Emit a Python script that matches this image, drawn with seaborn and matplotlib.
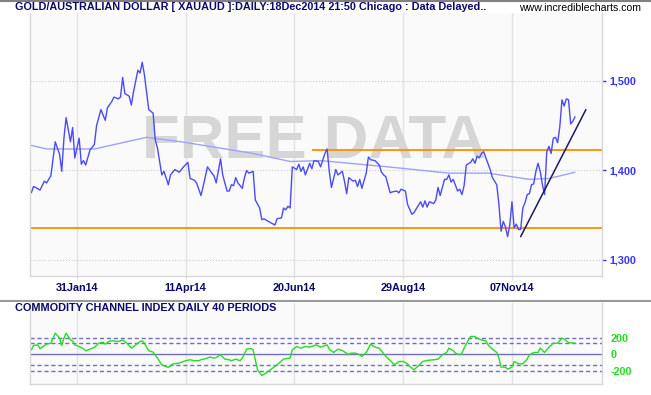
"""
plot.py - Gold / Australian dollar daily chart with CCI panel (incrediblecharts style)

Run:
    python plot.py

Saves out.png (651x395).
"""
import matplotlib
matplotlib.use("Agg")
import matplotlib.pyplot as plt
import pandas as pd
import seaborn as sns

# values; x = trading-day number counted from 1 Jan 2014
price_day = [
    1, 2, 3, 5, 7, 8, 10, 12, 14, 15,
    16, 17, 19, 20, 21, 23, 24, 25, 26, 28,
    30, 31, 33, 35, 36, 38, 39, 41, 42, 43,
    44, 46, 47, 48, 50, 51, 52, 53, 55, 57,
    58, 59, 61, 62, 64, 65, 67, 69, 70, 71,
    73, 74, 76, 77, 79, 80, 82, 84, 85, 86,
    88, 89, 91, 92, 93, 94, 95, 96, 98, 99,
    100, 101, 103, 104, 106, 107, 108, 110, 113, 114,
    116, 117, 118, 119, 120, 121, 123, 124, 125, 126,
    127, 129, 130, 131, 133, 134, 136, 137, 138, 139,
    141, 142, 144, 145, 146, 147, 149, 150, 151, 152,
    153, 155, 156, 157, 159, 161, 162, 163, 164, 166,
    167, 169, 170, 171, 173, 174, 176, 177, 179, 180,
    181, 182, 183, 184, 186, 187, 188, 189, 191, 192,
    193, 194, 195, 197, 198, 199, 200, 201, 203, 204,
    205, 206, 207, 208, 209, 210, 212, 213, 215, 216,
    217, 218, 219, 220, 221, 222, 223, 224, 225, 226,
    227, 228, 229, 230, 231, 232, 233, 234, 235, 236,
    237, 238, 239, 240, 241, 242, 243, 244, 245, 246,
    247, 248, 249, 250, 251,
]
price_close = [
    1375, 1382, 1381, 1378, 1388, 1386, 1394, 1432, 1418, 1399,
    1436, 1459, 1432, 1448, 1414, 1436, 1407, 1411, 1406, 1423,
    1429, 1450, 1468, 1456, 1470, 1477, 1482, 1480, 1482, 1504,
    1486, 1483, 1473, 1488, 1512, 1509, 1521, 1507, 1468, 1464,
    1434, 1425, 1395, 1399, 1384, 1395, 1401, 1398, 1401, 1404,
    1409, 1391, 1389, 1386, 1372, 1382, 1404, 1397, 1394, 1386,
    1413, 1395, 1377, 1377, 1384, 1383, 1392, 1386, 1380, 1392,
    1400, 1397, 1399, 1367, 1358, 1345, 1346, 1343, 1339, 1346,
    1347, 1358, 1356, 1360, 1358, 1404, 1401, 1407, 1399, 1404,
    1395, 1408, 1402, 1411, 1410, 1404, 1419, 1424, 1399, 1381,
    1401, 1395, 1399, 1388, 1374, 1392, 1388, 1389, 1382, 1390,
    1380, 1397, 1415, 1412, 1411, 1406, 1398, 1395, 1393, 1375,
    1376, 1377, 1375, 1379, 1377, 1362, 1351, 1353, 1361, 1365,
    1359, 1366, 1359, 1365, 1363, 1367, 1381, 1372, 1390, 1390,
    1395, 1387, 1390, 1377, 1379, 1373, 1383, 1406, 1409, 1413,
    1408, 1416, 1414, 1419, 1421, 1414, 1401, 1392, 1384, 1362,
    1332, 1343, 1337, 1326, 1339, 1365, 1336, 1340, 1334, 1334,
    1358, 1364, 1373, 1374, 1384, 1385, 1399, 1408, 1399, 1384,
    1373, 1421, 1427, 1419, 1436, 1437, 1431, 1449, 1479, 1472,
    1480, 1479, 1452, 1455, 1460,
]
ma_day = [1, 8, 30, 54, 70, 103, 120, 134, 165, 193, 211, 230, 239, 251]
ma_value = [1428, 1424, 1424, 1437, 1432, 1419, 1410, 1411, 1404, 1397, 1397, 1390, 1391, 1398]

cci_day = [
    1, 2, 4, 5, 7, 8, 10, 12, 14, 15,
    16, 17, 19, 20, 21, 23, 25, 26, 29, 30,
    32, 34, 35, 37, 39, 41, 43, 45, 47, 49,
    51, 52, 53, 55, 57, 59, 61, 64, 66, 69,
    72, 74, 76, 78, 79, 82, 83, 85, 86, 88,
    90, 92, 93, 95, 97, 98, 100, 102, 103, 105,
    107, 110, 112, 114, 117, 120, 121, 123, 125, 127,
    129, 132, 134, 137, 138, 140, 142, 144, 147, 148,
    150, 152, 153, 155, 157, 159, 161, 164, 166, 168,
    170, 172, 174, 175, 177, 179, 181, 183, 186, 188,
    190, 192, 193, 195, 196, 198, 199, 200, 202, 203,
    205, 206, 208, 210, 211, 213, 215, 216, 217, 219,
    220, 222, 223, 225, 227, 229, 230, 232, 234, 235,
    237, 239, 241, 243, 245, 246, 248, 251,
]
cci_value = [
    52, 104, 112, 64, 104, 120, 132, 253, 193, 104,
    193, 253, 172, 160, 112, 92, 64, 40, 72, 80,
    132, 145, 120, 160, 160, 152, 172, 132, 72, 112,
    152, 160, 132, 40, 24, -48, -129, -161, -120, -108,
    -80, -68, -80, -80, -68, -48, -36, -48, -41, -8,
    -60, -68, -80, -60, -80, -48, 60, 68, 52, -190,
    -260, -208, -168, -129, -60, -48, 52, 92, 72, 92,
    84, 112, 84, 112, 60, 20, 60, 44, -8, 12,
    12, -8, -28, 20, 120, 84, 72, -28, -76, -129,
    -89, -89, -117, -149, -189, -141, -89, -76, -68, -60,
    -8, 20, 72, 44, 12, -8, 12, 72, 172, 213,
    213, 193, 172, 160, 112, 60, 20, -48, -157, -157,
    -181, -157, -89, -117, -117, -60, -8, 20, 20, 72,
    20, 84, 132, 132, 193, 181, 140, 132,
]

trend_day = [226, 256]
trend_value = [1326, 1468]
support_level = 1336
resistance_level = 1423
resistance_start = 130
cci_levels = [-200, -130, 130, 200]

price_ticks = [1300, 1400, 1500]
cci_ticks = [-200, 0, 200]
tick_dates = ["2014-01-31", "2014-04-11", "2014-06-20", "2014-08-29", "2014-11-07"]

TITLE = "GOLD/AUSTRALIAN DOLLAR [ XAUAUD ]:DAILY:18Dec2014 21:50 Chicago : Data Delayed.."
CCI_TITLE = "COMMODITY CHANNEL INDEX DAILY 40 PERIODS"

NAVY = "#0a0a6e"
PRICE_BLUE = "#4a4aff"
MA_BLUE = "#a0a0ff"
ORANGE = "#ff8c00"
GREEN = "#22dd22"
LEVEL_BLUE = "#7070c0"
GRID = "#e2e2e2"
W, H = 651, 395

sns.set_style("white")
plt.rcParams["font.family"] = ["Liberation Sans", "DejaVu Sans"]


def box(x0, y0, x1, y1):
    # pixel box (top-left origin) -> figure fraction rect
    return [x0 / W, 1 - y1 / H, (x1 - x0) / W, (y1 - y0) / H]


def style_panel(ax):
    ax.set_facecolor("#fafafa")
    for side in ["left", "right", "bottom"]:
        ax.spines[side].set_color("#d8d8d8")
        ax.spines[side].set_linewidth(1)
    ax.spines["top"].set_visible(False)
    ax.set_axisbelow(True)
    ax.grid(axis="x", color=GRID, lw=1)
    ax.set_xlabel("")
    ax.set_ylabel("")


bdays = pd.bdate_range("2014-01-01", "2014-12-31")
tick_pos = bdays.get_indexer(pd.to_datetime(tick_dates))
tick_labels = [d.strftime("%d%b%y") for d in pd.to_datetime(tick_dates)]

fig = plt.figure(figsize=(W / 100, H / 100), dpi=100)
fig.patch.set_facecolor("white")
ax = fig.add_axes(box(30, 13, 602, 276))
ax_cci = fig.add_axes(box(30, 303, 602, 384))

# --- price panel ---
ax.text(314 / W, 1 - 158 / H, "FREE DATA", transform=fig.transFigure, ha="center",
        va="baseline", fontsize=44.5, fontweight="bold", color="#d6d6d6", zorder=0.6)
sns.lineplot(x=ma_day, y=ma_value, ax=ax, color=MA_BLUE, lw=1, estimator=None, sort=False)
ax.axhline(support_level, color=ORANGE, lw=1.3)
ax.hlines(resistance_level, resistance_start, 264, color=ORANGE, lw=1.3)
sns.lineplot(x=price_day, y=price_close, ax=ax, color=PRICE_BLUE, lw=1, estimator=None, sort=False)
sns.lineplot(x=trend_day, y=trend_value, ax=ax, color="#1a1a60", lw=1.1, estimator=None, sort=False)

style_panel(ax)
ax.grid(axis="y", color="#cccccc", lw=0.8, ls=":")
ax.set_xlim(0.4, 263.4)
ax.set_ylim(1282, 1576)
ax.yaxis.tick_right()
ax.set_yticks(price_ticks)
ax.set_yticklabels([f"{v:,}" for v in price_ticks], fontweight="bold")
ax.tick_params(axis="y", colors="#3535ff", labelsize=7.8, length=3, width=1, pad=2)
ax.set_xticks(tick_pos)
ax.set_xticklabels(tick_labels, fontweight="bold", color=NAVY)
ax.tick_params(axis="x", labelsize=7.8, length=3, color=GRID, pad=2, bottom=True)

# --- CCI panel ---
for lvl in cci_levels:
    ax_cci.axhline(lvl, color=LEVEL_BLUE, lw=1, ls=(0, (3, 2)))
ax_cci.axhline(0, color=LEVEL_BLUE, lw=1)
sns.lineplot(x=cci_day, y=cci_value, ax=ax_cci, color=GREEN, lw=1, estimator=None, sort=False)

style_panel(ax_cci)
ax_cci.set_xlim(0.4, 263.4)
ax_cci.set_ylim(-361, 618)
ax_cci.set_xticks(tick_pos)
ax_cci.set_xticklabels([])
ax_cci.tick_params(axis="x", length=3, color=GRID)
ax_cci.yaxis.tick_right()
ax_cci.set_yticks(cci_ticks)
ax_cci.set_yticklabels([str(v) for v in cci_ticks], fontweight="bold")
ax_cci.tick_params(axis="y", colors=GREEN, labelsize=7.8, length=0, pad=6)

# --- header texts and separators ---
fig.text(15 / W, 1 - 7.5 / H, TITLE, va="center", ha="left", fontsize=7.8,
         fontweight="bold", color=NAVY)
fig.text(519 / W, 1 - 8 / H, "www.incrediblecharts.com", va="center", ha="left",
         fontsize=7.6, color="black")
fig.text(15 / W, 1 - 308 / H, CCI_TITLE, va="center", ha="left", fontsize=7.8,
         fontweight="bold", color=NAVY)
fig.add_artist(plt.Line2D([0, 1], [1 - 0.7 / H] * 2, color="#808080", lw=1.5))
fig.add_artist(plt.Line2D([0, 1], [1 - 301 / H] * 2, color="#9a9a9a", lw=1.5))

fig.savefig("out.png", dpi=100)
plt.close(fig)
